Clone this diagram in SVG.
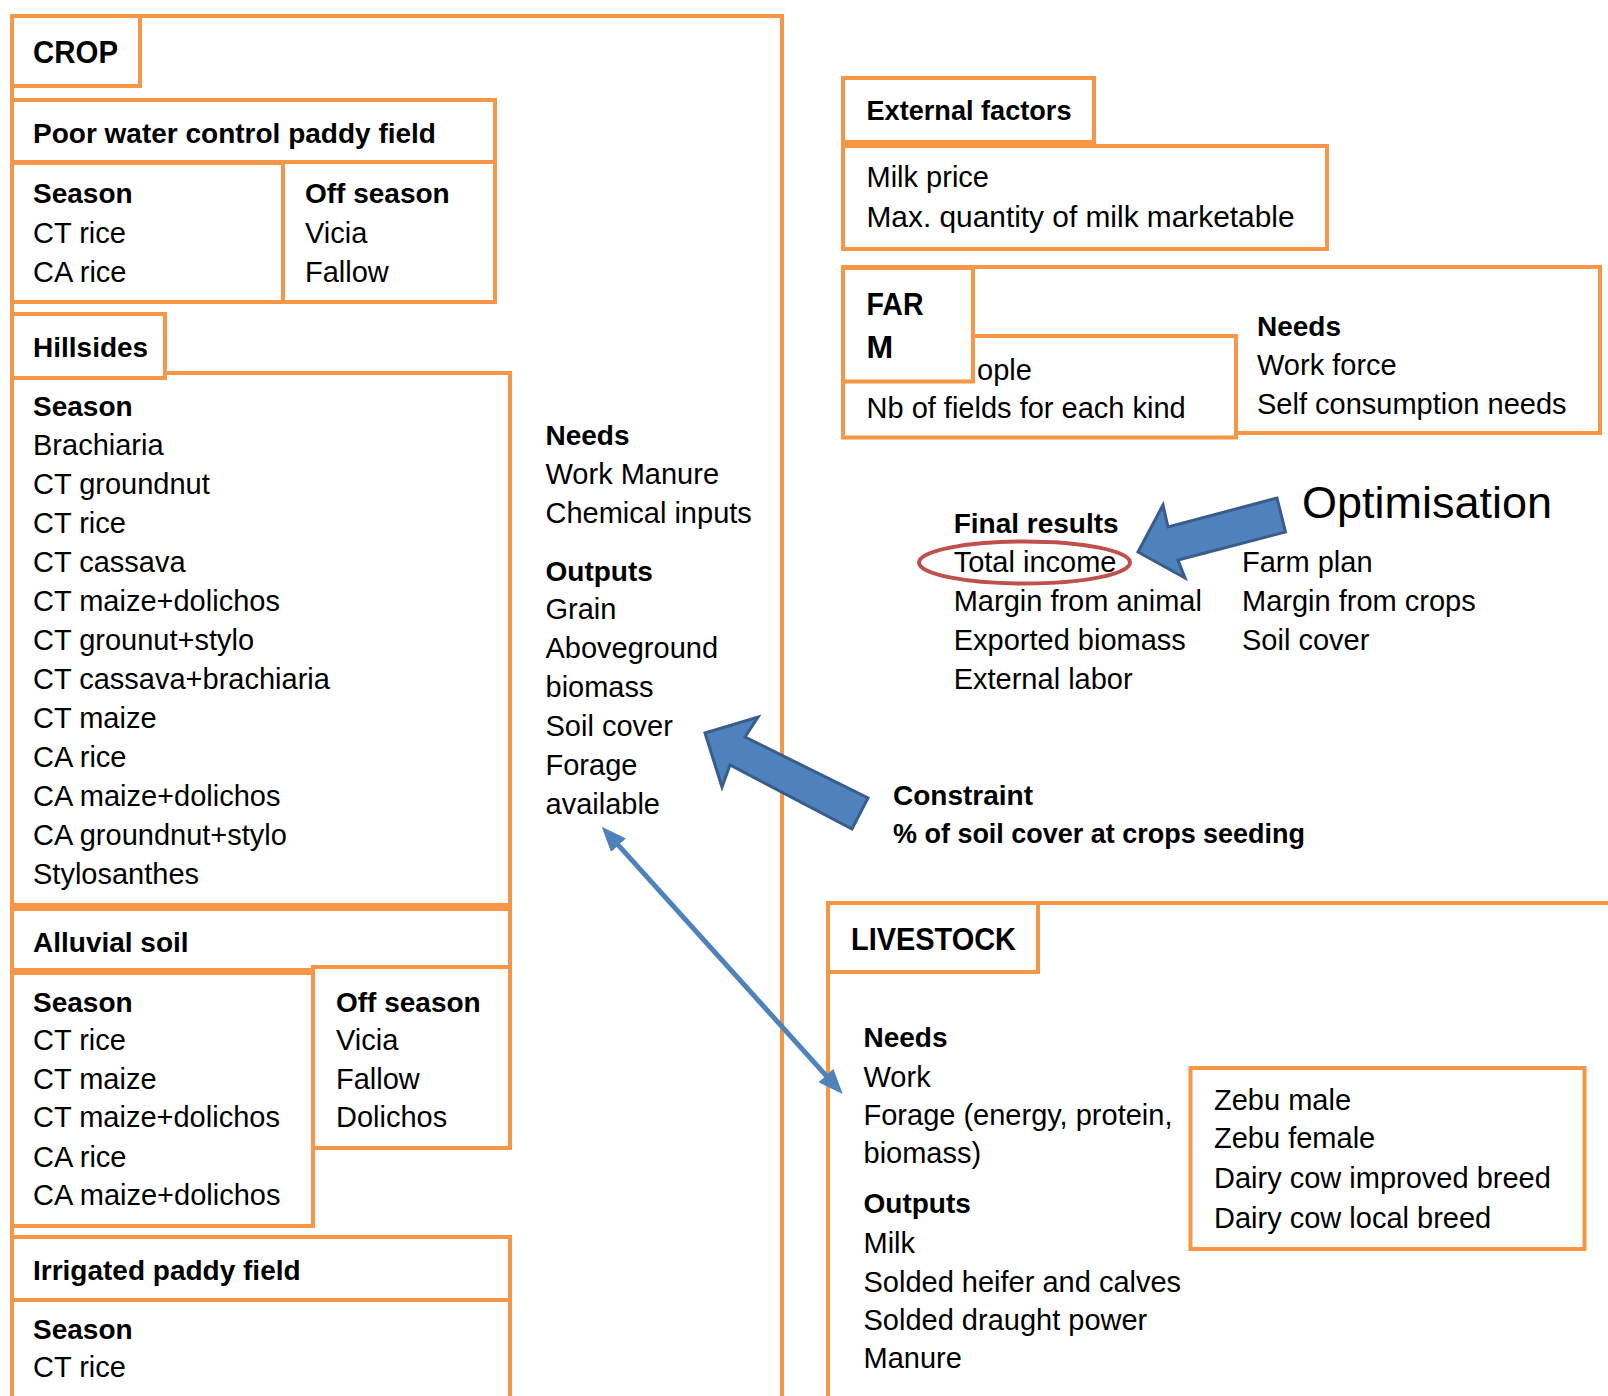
<svg xmlns="http://www.w3.org/2000/svg" width="1608" height="1396" viewBox="0 0 1608 1396">
<style>
.box{fill:#fff;stroke:#F79646;stroke-width:4}
.open{fill:none;stroke:#F79646;stroke-width:4}
text{font-family:"Liberation Sans",Arial,sans-serif;font-size:29px;fill:#000}
.b{font-weight:bold;font-size:28px}
.h{font-weight:bold;font-size:32px}
.blk{fill:#4F81BD;stroke:#385D8A;stroke-width:3;stroke-linejoin:miter}
</style>
<defs>
<marker id="ah" viewBox="0 0 10 8" markerWidth="5" markerHeight="4" refX="6" refY="4" orient="auto-start-reverse" markerUnits="strokeWidth">
<path d="M0,0 L10,4 L0,8 z" fill="#4F81BD"/>
</marker>
</defs>
<rect width="1608" height="1396" fill="#fff"/>

<g id="crop">
<rect class="open" x="12" y="16" width="770" height="1420"/>
<rect class="box" x="12" y="16" width="128" height="70"/>
<text class="h" x="33" y="63" textLength="85" lengthAdjust="spacingAndGlyphs">CROP</text>
</g>

<g id="poor-water">
<rect class="box" x="12" y="100" width="483" height="62"/>
<text class="b" x="33" y="143">Poor water control paddy field</text>
<rect class="box" x="12" y="163" width="271" height="139"/>
<text class="b" x="33" y="203">Season</text>
<text x="33" y="243">CT rice</text>
<text x="33" y="282">CA rice</text>
<rect class="box" x="283" y="162" width="212" height="140"/>
<text class="b" x="305" y="203">Off season</text>
<text x="305" y="243">Vicia</text>
<text x="305" y="282">Fallow</text>
</g>

<g id="hillsides">
<rect class="box" x="12" y="373" width="498" height="532"/>
<rect class="box" x="12" y="314" width="153" height="64"/>
<text class="b" x="33" y="357">Hillsides</text>
<text class="b" x="33" y="415.5">Season</text>
<text x="33" y="454.5">Brachiaria</text>
<text x="33" y="493.5">CT groundnut</text>
<text x="33" y="532.5">CT rice</text>
<text x="33" y="571.5">CT cassava</text>
<text x="33" y="610.5">CT maize+dolichos</text>
<text x="33" y="649.5">CT grounut+stylo</text>
<text x="33" y="688.5">CT cassava+brachiaria</text>
<text x="33" y="727.5">CT maize</text>
<text x="33" y="766.5">CA rice</text>
<text x="33" y="805.5">CA maize+dolichos</text>
<text x="33" y="844.5">CA groundnut+stylo</text>
<text x="33" y="883.5">Stylosanthes</text>
</g>

<g id="alluvial">
<rect class="box" x="12" y="909" width="498" height="61"/>
<text class="b" x="33" y="951.5">Alluvial soil</text>
<rect class="box" x="12" y="973" width="301" height="253"/>
<text class="b" x="33" y="1011.5">Season</text>
<text x="33" y="1050">CT rice</text>
<text x="33" y="1088.5">CT maize</text>
<text x="33" y="1127">CT maize+dolichos</text>
<text x="33" y="1166.5">CA rice</text>
<text x="33" y="1205">CA maize+dolichos</text>
<rect class="box" x="313" y="967" width="197" height="181"/>
<text class="b" x="336" y="1011.5">Off season</text>
<text x="336" y="1050">Vicia</text>
<text x="336" y="1088.5">Fallow</text>
<text x="336" y="1127">Dolichos</text>
</g>

<g id="irrigated">
<rect class="box" x="12" y="1237" width="498" height="63"/>
<text class="b" x="33" y="1280">Irrigated paddy field</text>
<rect class="box" x="12" y="1300" width="498" height="200"/>
<text class="b" x="33" y="1338.5">Season</text>
<text x="33" y="1377">CT rice</text>
</g>

<g id="crop-needs">
<text class="b" x="545.5" y="444.5">Needs</text>
<text x="545.5" y="483.5">Work Manure</text>
<text x="545.5" y="522.5">Chemical inputs</text>
<text class="b" x="545.5" y="581">Outputs</text>
<text x="545.5" y="618.5">Grain</text>
<text x="545.5" y="657.5">Aboveground</text>
<text x="545.5" y="696.5">biomass</text>
<text x="545.5" y="735.5">Soil cover</text>
<text x="545.5" y="775">Forage</text>
<text x="545.5" y="813.5">available</text>
</g>

<g id="external">
<rect class="box" x="843" y="78" width="251" height="64"/>
<text class="b" x="866.5" y="120" textLength="205" lengthAdjust="spacingAndGlyphs">External factors</text>
<rect class="box" x="843" y="146" width="484" height="103"/>
<text x="866.5" y="187">Milk price</text>
<text x="866.5" y="227" textLength="428" lengthAdjust="spacingAndGlyphs">Max. quantity of milk marketable</text>
</g>

<g id="farm">
<rect class="box" x="843" y="267" width="757" height="166"/>
<rect class="box" x="843" y="336" width="393" height="101.5"/>
<text x="977" y="379.5">ople</text>
<text x="866.5" y="417.5">Nb of fields for each kind</text>
<rect class="box" x="843" y="268" width="130" height="113.5"/>
<text class="h" x="866.5" y="314.5" textLength="57" lengthAdjust="spacingAndGlyphs">FAR</text>
<text class="h" x="866.5" y="358">M</text>
<text class="b" x="1257" y="336">Needs</text>
<text x="1257" y="375">Work force</text>
<text x="1257" y="414">Self consumption needs</text>
</g>

<g id="results">
<text class="b" x="953.7" y="533.3">Final results</text>
<text x="953.7" y="571.7">Total income</text>
<text x="953.7" y="610.7">Margin from animal</text>
<text x="953.7" y="650">Exported biomass</text>
<text x="953.7" y="689.3">External labor</text>
<text x="1242" y="571.7">Farm plan</text>
<text x="1242" y="610.7">Margin from crops</text>
<text x="1242" y="650">Soil cover</text>
<ellipse cx="1024.5" cy="562.5" rx="105.5" ry="21" fill="none" stroke="#C0504D" stroke-width="4"/>
</g>

<g id="optimisation">
<text x="1302" y="518.3" style="font-size:45px">Optimisation</text>
</g>

<g id="constraint">
<text class="b" x="893" y="805">Constraint</text>
<text class="b" x="893" y="843.3" textLength="412" lengthAdjust="spacingAndGlyphs">% of soil cover at crops seeding</text>
</g>

<g id="livestock">
<rect class="open" x="828" y="903" width="900" height="600"/>
<rect class="box" x="828" y="903" width="210" height="69"/>
<text class="h" x="851" y="950" textLength="165" lengthAdjust="spacingAndGlyphs">LIVESTOCK</text>
<text class="b" x="863.5" y="1046.7">Needs</text>
<text x="863.5" y="1086.7">Work</text>
<text x="863.5" y="1125">Forage (energy, protein,</text>
<text x="863.5" y="1163.3">biomass)</text>
<text class="b" x="863.5" y="1213.3">Outputs</text>
<text x="863.5" y="1253.3">Milk</text>
<text x="863.5" y="1291.7">Solded heifer and calves</text>
<text x="863.5" y="1330">Solded draught power</text>
<text x="863.5" y="1368.3">Manure</text>
</g>

<g id="breeds">
<rect class="box" x="1190.5" y="1068" width="394" height="181"/>
<text x="1214" y="1110">Zebu male</text>
<text x="1214" y="1148.3">Zebu female</text>
<text x="1214" y="1188.3">Dairy cow improved breed</text>
<text x="1214" y="1228.3">Dairy cow local breed</text>
</g>

<g id="connectors">
<polygon class="blk" points="1138,552 1163,505 1168,527 1277,498 1285.5,532 1178,560 1185,578"/>
<polygon class="blk" points="705,733 758,717 745,737 868,798 852,829 730,765 722,787"/>
<line x1="608.4" y1="834.1" x2="836" y2="1086.6" stroke="#4F81BD" stroke-width="5" marker-start="url(#ah)" marker-end="url(#ah)"/>
</g>
</svg>
